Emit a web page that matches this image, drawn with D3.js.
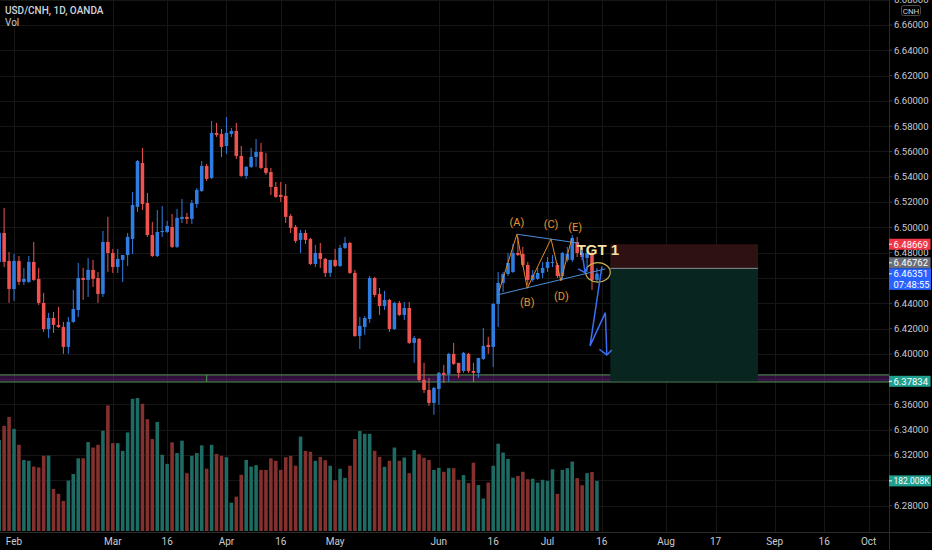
<!DOCTYPE html>
<html>
<head>
<meta charset="utf-8">
<script src="https://cdn.jsdelivr.net/npm/d3@7"></script>
<style>
  html, body { margin: 0; padding: 0; background: #000; }
  svg { display: block; font-family: Roboto, 'DejaVu Sans', sans-serif; }
</style>
</head>
<body>
<script>
// Daily bars, index 0 = Feb 1 (first three bars are late January)
const firstBar = -3
const opens = [
  6.4727, 6.4956, 6.4735,
  6.4513, 6.4735, 6.4569, 6.4569, 6.4727, 6.4593, 6.4403, 6.4197, 6.4284, 6.4229,
  6.4213, 6.4055, 6.4253, 6.4347, 6.4600, 6.4585, 6.4664, 6.4600, 6.4474, 6.4885,
  6.4798, 6.4687, 6.4743, 6.4782, 6.4909, 6.5162, 6.5509, 6.5193, 6.4940, 6.4774,
  6.4964, 6.4964, 6.5004, 6.4846, 6.5067, 6.5083, 6.5067, 6.5185, 6.5288, 6.5486,
  6.5391, 6.5747, 6.5739, 6.5644, 6.5739, 6.5762, 6.5565, 6.5407, 6.5478, 6.5557,
  6.5596, 6.5470, 6.5438, 6.5320, 6.5257, 6.5249, 6.5091, 6.5004, 6.4901, 6.4956,
  6.4909, 6.4711, 6.4798, 6.4751, 6.4640, 6.4743, 6.4695, 6.4838, 6.4877, 6.4640,
  6.4142, 6.4213, 6.4276, 6.4600, 6.4474, 6.4379, 6.4427, 6.4197, 6.4403, 6.4308,
  6.4363, 6.4087, 6.4118, 6.3794, 6.3715, 6.3612, 6.3723, 6.3850, 6.3842, 6.4000,
  6.3929, 6.3865, 6.4000, 6.3865, 6.3850, 6.3960, 6.4071, 6.4055, 6.4395, 6.4561,
  6.4632, 6.4648, 6.4798, 6.4790, 6.4703, 6.4585, 6.4593, 6.4640, 6.4680, 6.4719,
  6.4703, 6.4616, 6.4743, 6.4743, 6.4885, 6.4798, 6.4758, 6.4798, 6.4585
]
const highs = [
  6.4980, 6.5154, 6.4806,
  6.4790, 6.4774, 6.4680, 6.4774, 6.4885, 6.4680, 6.4482, 6.4324, 6.4332, 6.4371,
  6.4253, 6.4292, 6.4506, 6.4719, 6.4680, 6.4758, 6.4743, 6.4648, 6.4972, 6.5083,
  6.4830, 6.4830, 6.4782, 6.4956, 6.5280, 6.5533, 6.5628, 6.5272, 6.5043, 6.5138,
  6.5170, 6.5051, 6.5106, 6.5146, 6.5225, 6.5114, 6.5217, 6.5312, 6.5525, 6.5502,
  6.5842, 6.5826, 6.5778, 6.5873, 6.5786, 6.5826, 6.5644, 6.5486, 6.5628, 6.5699,
  6.5668, 6.5589, 6.5470, 6.5359, 6.5359, 6.5343, 6.5106, 6.5019, 6.4980, 6.4980,
  6.4917, 6.4861, 6.4877, 6.4758, 6.4743, 6.4830, 6.4861, 6.4925, 6.4885, 6.4664,
  6.4292, 6.4300, 6.4616, 6.4608, 6.4521, 6.4498, 6.4435, 6.4411, 6.4419, 6.4411,
  6.4411, 6.4142, 6.4126, 6.3929, 6.3810, 6.3739, 6.3857, 6.3913, 6.4008, 6.4087,
  6.3929, 6.4016, 6.4008, 6.3929, 6.3968, 6.4205, 6.4134, 6.4403, 6.4648, 6.4648,
  6.4798, 6.4869, 6.4925, 6.4846, 6.4727, 6.4664, 6.4680, 6.4727, 6.4766, 6.4782,
  6.4719, 6.4806, 6.4846, 6.4940, 6.4925, 6.4838, 6.4822, 6.4822, 6.4680
]
const lows = [
  6.4703, 6.4687, 6.4403,
  6.4419, 6.4545, 6.4545, 6.4561, 6.4577, 6.4387, 6.4174, 6.4126, 6.4166, 6.4205,
  6.4000, 6.4000, 6.4245, 6.4292, 6.4427, 6.4450, 6.4529, 6.4403, 6.4450, 6.4648,
  6.4640, 6.4640, 6.4569, 6.4695, 6.4790, 6.5122, 6.5138, 6.4925, 6.4766, 6.4766,
  6.4925, 6.4956, 6.4838, 6.4838, 6.5035, 6.5027, 6.5027, 6.5154, 6.5280, 6.5367,
  6.5383, 6.5715, 6.5557, 6.5581, 6.5715, 6.5541, 6.5399, 6.5383, 6.5470, 6.5478,
  6.5462, 6.5415, 6.5257, 6.5233, 6.5201, 6.5035, 6.4956, 6.4877, 6.4798, 6.4869,
  6.4703, 6.4687, 6.4680, 6.4608, 6.4608, 6.4687, 6.4687, 6.4830, 6.4632, 6.4134,
  6.4039, 6.4150, 6.4245, 6.4450, 6.4308, 6.4347, 6.4174, 6.4189, 6.4300, 6.4268,
  6.4079, 6.3929, 6.3778, 6.3691, 6.3589, 6.3518, 6.3597, 6.3770, 6.3778, 6.3913,
  6.3810, 6.3850, 6.3850, 6.3778, 6.3810, 6.3952, 6.4000, 6.3897, 6.4213, 6.4490,
  6.4616, 6.4640, 6.4774, 6.4687, 6.4545, 6.4569, 6.4585, 6.4600, 6.4648, 6.4687,
  6.4600, 6.4585, 6.4727, 6.4727, 6.4766, 6.4743, 6.4648, 6.4506, 6.4569
]
const closes = [
  6.4956, 6.4727, 6.4513,
  6.4735, 6.4569, 6.4593, 6.4727, 6.4585, 6.4403, 6.4197, 6.4284, 6.4229, 6.4213,
  6.4055, 6.4253, 6.4355, 6.4600, 6.4585, 6.4664, 6.4593, 6.4474, 6.4885, 6.4798,
  6.4687, 6.4751, 6.4782, 6.4925, 6.5177, 6.5525, 6.5185, 6.4940, 6.4774, 6.4964,
  6.4972, 6.5011, 6.4846, 6.5075, 6.5083, 6.5067, 6.5193, 6.5296, 6.5486, 6.5383,
  6.5747, 6.5731, 6.5636, 6.5747, 6.5762, 6.5565, 6.5407, 6.5478, 6.5557, 6.5596,
  6.5470, 6.5431, 6.5320, 6.5241, 6.5241, 6.5083, 6.4996, 6.4893, 6.4956, 6.4901,
  6.4711, 6.4798, 6.4751, 6.4640, 6.4743, 6.4695, 6.4838, 6.4877, 6.4640, 6.4142,
  6.4221, 6.4284, 6.4600, 6.4466, 6.4379, 6.4427, 6.4197, 6.4403, 6.4308, 6.4363,
  6.4087, 6.4126, 6.3794, 6.3715, 6.3612, 6.3731, 6.3850, 6.3834, 6.4000, 6.3921,
  6.3850, 6.4008, 6.3865, 6.3850, 6.3968, 6.4063, 6.4055, 6.4395, 6.4561, 6.4632,
  6.4719, 6.4798, 6.4782, 6.4703, 6.4585, 6.4624, 6.4640, 6.4680, 6.4727, 6.4727,
  6.4616, 6.4798, 6.4790, 6.4917, 6.4798, 6.4766, 6.4798, 6.4585, 6.46351
]
// Volume, thousands
const volumes = [
  331, 382, 414,
  371, 313, 258, 255, 234, 231, 273, 274, 153, 135,
  109, 183, 207, 264, 264, 323, 303, 313, 364, 456,
  319, 319, 291, 358, 480, 483, 462, 406, 334, 396,
  277, 244, 322, 283, 328, 210, 273, 283, 311, 226,
  313, 280, 273, 268, 103, 125, 204, 258, 234, 239,
  222, 222, 264, 255, 222, 268, 273, 237, 343, 291,
  288, 255, 269, 257, 237, 184, 226, 193, 237, 334,
  363, 353, 353, 291, 269, 233, 255, 303, 255, 267,
  210, 294, 279, 266, 258, 222, 229, 215, 228, 228,
  186, 203, 174, 248, 167, 118, 176, 237, 317, 285,
  262, 194, 200, 215, 188, 190, 176, 186, 182, 224,
  135, 222, 228, 252, 192, 166, 210, 214, 182.008
]

// Axis labels
const timeLabels = ['Feb', 'Mar', '16', 'Apr', '16', 'May', 'Jun', '16', 'Jul', '16', 'Aug', '17', 'Sep', '16', 'Oct']
const timeTickBars = [0, 20, 31, 43, 54, 65, 86, 97, 108, 119, 132, 142, 154, 164, 173]
const priceTicks = d3.range(0, 21).map(k => 6.28 + k * 0.02)

// Drawings on the chart (bar index, price)
const bandLow = 6.3778
const bandHigh = 6.3834
const bandMarkBar = 39
const posStart = 120.7
const posEnd = 150.6
const stopPrice = 6.48669
const entryPrice = 6.46762
const targetPrice = 6.37834
const zigzag = [[98.2, 6.4498], [101.8, 6.4946], [103.9, 6.4519], [108.7, 6.4909], [110.7, 6.4577], [112.9, 6.4913]]
const upperTrend = [[101.8, 6.4946], [114.4, 6.4875]]
const lowerTrend = [[97.8, 6.4466], [119.7, 6.4672]]
const waveNames = ['(A)', '(B)', '(C)', '(D)', '(E)']
const wavePos = [[101.8, 6.5035], [103.9, 6.4403], [108.7, 6.5019], [110.8, 6.4450], [113.6, 6.4996]]
const tgtPos = [113.9, 6.4782]
const circleCenter = [118.2, 6.4645]
const circleSize = [2.5, 0.0077]
const arrowLine = [[119.0, 6.4690], [116.6, 6.4063], [119.7, 6.4326], [120.0, 6.3992]]
const arrowHead = [[118.5, 6.4037], [120.0, 6.3992], [121.0, 6.4031]]
const smallArrow = [[114.9, 6.4822], [115.6, 6.4642]]
const smallArrowHead = [[114.2, 6.4672], [115.6, 6.4642], [116.1, 6.4690]]

;(() => {
  const width = 932
  const height = 550
  const plotRight = 889
  const plotBottom = 532

  const svg = d3.select('body')
    .append('svg')
    .attr('width', width)
    .attr('height', height)

  svg.append('rect').attr('width', width).attr('height', height).attr('fill', '#000')

  svg.append('defs').append('clipPath').attr('id', 'plot')
    .append('rect').attr('width', plotRight).attr('height', plotBottom)

  // Scales
  const x = d3.scaleLinear().domain([0, 174]).range([14, 873.6])
  const y = d3.scaleLinear().domain([6.28, 6.66]).range([505.7, 25])
  const yVol = d3.scaleLinear().domain([0, 483]).range([531, 398])
  const barW = (x(1) - x(0)) * 0.72

  const bars = opens.map((o, k) => ({
    i: firstBar + k, o, h: highs[k], l: lows[k], c: closes[k], v: volumes[k]
  }))

  const g = svg.append('g').attr('clip-path', 'url(#plot)')

  // Gridlines
  g.append('g')
    .selectAll('line')
    .data(priceTicks)
    .join('line')
    .attr('x1', 0).attr('x2', plotRight)
    .attr('y1', d => Math.round(y(d)) + 0.5).attr('y2', d => Math.round(y(d)) + 0.5)
    .attr('stroke', '#161616')

  g.append('g')
    .selectAll('line')
    .data(timeTickBars)
    .join('line')
    .attr('x1', d => Math.round(x(d)) + 0.5).attr('x2', d => Math.round(x(d)) + 0.5)
    .attr('y1', 0).attr('y2', plotBottom)
    .attr('stroke', '#161616')

  // Volume
  g.append('g')
    .selectAll('rect')
    .data(bars)
    .join('rect')
    .attr('x', d => x(d.i) - barW / 2)
    .attr('width', barW)
    .attr('y', d => yVol(d.v))
    .attr('height', d => yVol(0) - yVol(d.v))
    .attr('fill', d => d.c >= d.o ? '#1d6b63' : '#83312f')

  // Support band
  g.append('rect')
    .attr('x', 0).attr('width', plotRight)
    .attr('y', y(bandHigh)).attr('height', y(bandLow) - y(bandHigh))
    .attr('fill', 'rgba(120, 35, 150, 0.4)')
  g.selectAll('.band')
    .data([bandLow, bandHigh])
    .join('line')
    .attr('class', 'band')
    .attr('x1', 0).attr('x2', plotRight)
    .attr('y1', d => y(d)).attr('y2', d => y(d))
    .attr('stroke', '#4f9a52')
  g.append('line')
    .attr('x1', x(bandMarkBar)).attr('x2', x(bandMarkBar))
    .attr('y1', y(bandHigh)).attr('y2', y(bandLow))
    .attr('stroke', '#4f9a52')

  // Position (short) boxes
  g.append('rect')
    .attr('x', x(posStart)).attr('width', x(posEnd) - x(posStart))
    .attr('y', y(stopPrice)).attr('height', y(entryPrice) - y(stopPrice))
    .attr('fill', '#2e1112')
  g.append('rect')
    .attr('x', x(posStart)).attr('width', x(posEnd) - x(posStart))
    .attr('y', y(entryPrice)).attr('height', y(targetPrice) - y(entryPrice))
    .attr('fill', '#08251f')
  g.append('line')
    .attr('x1', x(posStart)).attr('x2', x(posEnd))
    .attr('y1', y(entryPrice)).attr('y2', y(entryPrice))
    .attr('stroke', '#8a8d96')

  // Candles
  const candle = g.append('g')
    .selectAll('g')
    .data(bars)
    .join('g')
  candle.append('line')
    .attr('x1', d => x(d.i)).attr('x2', d => x(d.i))
    .attr('y1', d => y(d.h)).attr('y2', d => y(d.l))
    .attr('stroke', d => d.c >= d.o ? '#2f7de0' : '#ef5350')
    .attr('stroke-width', 1)
  candle.append('rect')
    .attr('x', d => x(d.i) - barW / 2)
    .attr('width', barW)
    .attr('y', d => y(Math.max(d.o, d.c)))
    .attr('height', d => Math.max(1, Math.abs(y(d.o) - y(d.c))))
    .attr('fill', d => d.c >= d.o ? '#2f7de0' : '#ef5350')

  // Pattern drawings
  const line = d3.line().x(d => x(d[0])).y(d => y(d[1]))

  g.append('path').datum(upperTrend).attr('d', line)
    .attr('fill', 'none').attr('stroke', '#4a90d9').attr('stroke-width', 1)
  g.append('path').datum(lowerTrend).attr('d', line)
    .attr('fill', 'none').attr('stroke', '#4a90d9').attr('stroke-width', 1)
  g.append('path').datum(zigzag).attr('d', line)
    .attr('fill', 'none').attr('stroke', '#e08a2c').attr('stroke-width', 1)

  g.selectAll('.wave')
    .data(waveNames)
    .join('text')
    .attr('class', 'wave')
    .attr('x', (d, k) => x(wavePos[k][0]))
    .attr('y', (d, k) => y(wavePos[k][1]))
    .attr('text-anchor', 'middle')
    .attr('dominant-baseline', 'middle')
    .attr('fill', '#e8962e')
    .attr('font-size', 11)
    .text(d => d)

  g.append('ellipse')
    .attr('cx', x(circleCenter[0])).attr('cy', y(circleCenter[1]))
    .attr('rx', x(circleSize[0]) - x(0))
    .attr('ry', y(6.4) - y(6.4 + circleSize[1]))
    .attr('fill', 'none').attr('stroke', '#c2ad4c').attr('stroke-width', 1.2)

  g.append('text')
    .attr('x', x(tgtPos[0])).attr('y', y(tgtPos[1]))
    .attr('fill', '#f4e4a2')
    .attr('font-family', "'Liberation Sans', Arial, sans-serif")
    .attr('font-weight', 'bold')
    .attr('font-size', 15)
    .text('TGT 1')

  ;[arrowLine, arrowHead, smallArrow, smallArrowHead].forEach(pts => {
    g.append('path').datum(pts).attr('d', line)
      .attr('fill', 'none').attr('stroke', '#3a6ff2').attr('stroke-width', 1.5)
      .attr('stroke-linejoin', 'miter')
  })

  // Axis panels
  const axis = svg.append('g')
  axis.append('rect')
    .attr('x', plotRight).attr('width', width - plotRight).attr('height', height)
    .attr('fill', '#000')
  axis.append('rect')
    .attr('y', plotBottom).attr('width', width).attr('height', height - plotBottom)
    .attr('fill', '#000')
  axis.append('line')
    .attr('x1', plotRight + 0.5).attr('x2', plotRight + 0.5).attr('y1', 0).attr('y2', height)
    .attr('stroke', '#2a2a2a')
  axis.append('line')
    .attr('x1', 0).attr('x2', width).attr('y1', plotBottom + 0.5).attr('y2', plotBottom + 0.5)
    .attr('stroke', '#2a2a2a')

  const fmt = d3.format('.5f')
  const last = closes.length - 1

  // Price labels, with overlapping ones pushed apart
  const tags = [
    { lines: [fmt(stopPrice)], cy: y(stopPrice), fill: '#f23645' },
    { lines: [fmt(entryPrice)], cy: y(entryPrice), fill: '#6b6e78' },
    { lines: [fmt(closes[last]), '07:48:55'], cy: y(closes[last]), fill: '#2962ff' },
    { lines: [fmt(targetPrice)], cy: y(targetPrice), fill: '#22a08f' },
    { lines: [d3.format('.3f')(volumes[last]) + 'K'], cy: yVol(volumes[last]), fill: '#22a08f' }
  ]
  tags.forEach(t => { t.h = t.lines.length * 10.5 + 0.5 })
  for (let k = 1; k < tags.length; k++) {
    const a = tags[k - 1]
    const b = tags[k]
    const need = a.h / 2 + b.h / 2
    const gap = b.cy - a.cy
    if (gap < need) {
      const push = (need - gap) / 2
      a.cy -= push
      b.cy += push
    }
  }

  // Price ticks (hidden where a label covers them)
  const covered = d => tags.some(t => Math.abs(y(d) - t.cy) < t.h / 2)
  const pt = axis.append('g')
    .selectAll('g')
    .data(priceTicks.filter(d => !covered(d)))
    .join('g')
    .attr('transform', d => `translate(${plotRight}, ${y(d)})`)
  pt.append('line').attr('x1', 0).attr('x2', 3).attr('stroke', '#3a3a3a')
  pt.append('text')
    .attr('x', 5).attr('dy', '0.35em')
    .attr('fill', '#c9cbd1').attr('font-size', 9.5)
    .text(d => fmt(d))

  // Currency tag
  axis.append('rect')
    .attr('x', 901.5).attr('y', 5.5).attr('width', 19).attr('height', 10).attr('rx', 2)
    .attr('fill', '#000').attr('stroke', '#4a4a4a')
  axis.append('text')
    .attr('x', 911).attr('y', 13.5).attr('text-anchor', 'middle')
    .attr('fill', '#c9cbd1').attr('font-size', 8).text('CNH')

  const room = width - plotRight - 1
  tags.forEach(t => {
    const tg = axis.append('g').attr('transform', `translate(${plotRight}, ${t.cy - t.h / 2})`)
    const box = tg.append('rect').attr('height', t.h).attr('fill', t.fill)
    tg.append('line').attr('x1', 0).attr('x2', 3)
      .attr('y1', t.lines.length > 1 ? 5.5 : t.h / 2).attr('y2', t.lines.length > 1 ? 5.5 : t.h / 2)
      .attr('stroke', '#fff')
    let w = 0
    t.lines.forEach((s, k) => {
      const txt = tg.append('text')
        .attr('x', 4.5).attr('y', 5.5 + k * 10.5).attr('dy', '0.35em')
        .attr('fill', '#fff').attr('font-size', 9.5)
        .text(s)
      const len = txt.node().getComputedTextLength()
      // squeeze text that would run past the window edge
      if (len > room - 6) txt.attr('textLength', room - 6).attr('lengthAdjust', 'spacingAndGlyphs')
      w = Math.max(w, Math.min(len, room - 6))
    })
    box.attr('width', Math.min(room, w + 7))
  })

  // Time axis
  axis.append('g')
    .selectAll('text')
    .data(timeLabels)
    .join('text')
    .attr('x', (d, k) => x(timeTickBars[k]))
    .attr('y', 545)
    .attr('text-anchor', 'middle')
    .attr('fill', '#c9cbd1')
    .attr('font-size', 10)
    .text(d => d)

  // Legend
  svg.append('text')
    .attr('x', 5).attr('y', 14)
    .attr('fill', '#d1d4dc').attr('font-size', 10).attr('font-weight', 500)
    .text('USD/CNH, 1D, OANDA')
  svg.append('text')
    .attr('x', 5).attr('y', 26)
    .attr('fill', '#c9cbd1').attr('font-size', 10)
    .text('Vol')
})()
</script>
</body>
</html>
